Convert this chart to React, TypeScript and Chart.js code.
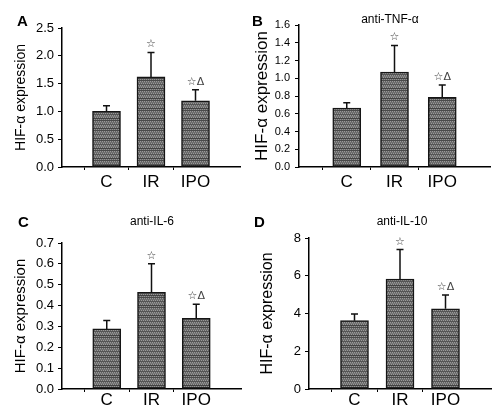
import React, { useEffect, useRef } from 'react';
import { Chart, registerables } from 'chart.js';

Chart.register(...registerables);

// ---------- data ----------
const categories = ['', 'C', 'IR', 'IPO', ''];
const valuesA = [null, 1.0, 1.62, 1.19, null];
const errorsA = [null, 0.1, 0.44, 0.2, null];
const valuesB = [null, 0.665, 1.07, 0.785, null];
const errorsB = [null, 0.06, 0.3, 0.14, null];
const valuesC = [null, 0.288, 0.464, 0.339, null];
const errorsC = [null, 0.041, 0.137, 0.067, null];
const valuesD = [null, 3.62, 5.83, 4.25, null];
const errorsD = [null, 0.35, 1.56, 0.73, null];
const marks = ['', '', '☆', '☆Δ', ''];
const yMax = [2.5, 1.6, 0.7, 8];
const yStep = [0.5, 0.2, 0.1, 2];
const yDecimals = [1, 1, 1, 0];
const panelLetters = ['A', 'B', 'C', 'D'];
const panelTitles = ['', 'anti-TNF-α', 'anti-IL-6', 'anti-IL-10'];
const yTitle = 'HIF-α expression';

const FONT = '"Liberation Sans", Arial, sans-serif';

// ---------- layout ----------
const panels = [
  { values: valuesA, errors: errorsA, left: 0, top: 0, w: 250, h: 207, yW: 62, padTop: 28, padRight: 10, xH: 40, tSize: 14, tPad: 13, xPad: 4, tickSize: 13, tickPad: 4 },
  { values: valuesB, errors: errorsB, left: 250, top: 0, w: 250, h: 207, yW: 49, padTop: 25, padRight: 10, xH: 40, tSize: 17, tPad: 2, xPad: 4, tickSize: 11, tickPad: 5 },
  { values: valuesC, errors: errorsC, left: 0, top: 207, w: 250, h: 208, yW: 62, padTop: 36, padRight: 9, xH: 26, tSize: 15, tPad: 12, xPad: 0, tickSize: 13, tickPad: 4 },
  { values: valuesD, errors: errorsD, left: 250, top: 207, w: 250, h: 208, yW: 59, padTop: 31, padRight: 9, xH: 26, tSize: 16, tPad: 8, xPad: 0, tickSize: 13, tickPad: 4 },
];
const letterPos = [
  { x: 17, y: 13 }, { x: 252, y: 13 }, { x: 18, y: 214 }, { x: 254, y: 214 },
];
const titlePos = [
  { x: 0, y: 0 }, { x: 390, y: 13 }, { x: 152, y: 215 }, { x: 402, y: 215 },
];

function makePattern(): CanvasPattern | string {
  const c = document.createElement('canvas');
  c.width = 2;
  c.height = 10;
  const g = c.getContext('2d');
  if (!g) return '#707070';
  const rows = [
    ['#4a4a4a', '#4a4a4a'],
    ['#9a9a9a', '#616161'],
    ['#707070', '#707070'],
    ['#616161', '#9a9a9a'],
    ['#555555', '#555555'],
    ['#9a9a9a', '#616161'],
    ['#7a7a7a', '#7a7a7a'],
    ['#616161', '#9a9a9a'],
    ['#424242', '#424242'],
    ['#949494', '#656565'],
  ];
  rows.forEach((r, y) => r.forEach((col, x) => { g.fillStyle = col; g.fillRect(x, y, 1, 1); }));
  return g.createPattern(c, 'repeat') || '#707070';
}

const errorPlugin = {
  id: 'errbars',
  afterDatasetsDraw(chart: any, _args: any, opts: any) {
    const { ctx } = chart;
    const meta = chart.getDatasetMeta(0);
    const ds = chart.data.datasets[0];
    const yScale = chart.scales.y;
    const errs = opts.errors || [];
    const mk = opts.marks || [];
    ctx.save();
    meta.data.forEach((bar: any, i: number) => {
      const v = ds.data[i];
      const e = errs[i];
      if (v == null || e == null) return;
      const x = bar.x;
      const yTop = yScale.getPixelForValue(v + e);
      ctx.strokeStyle = '#111';
      ctx.lineWidth = 1.5;
      ctx.beginPath();
      ctx.moveTo(x, bar.y);
      ctx.lineTo(x, yTop);
      ctx.moveTo(x - 3.5, yTop);
      ctx.lineTo(x + 3.5, yTop);
      ctx.stroke();
      if (mk[i]) {
        ctx.fillStyle = '#444';
        ctx.font = '11px "DejaVu Sans", sans-serif';
        ctx.textAlign = 'center';
        ctx.textBaseline = 'alphabetic';
        ctx.fillText(mk[i], x, yTop - 5);
      }
    });
    ctx.restore();
  },
};

function Panel({ idx }: { idx: number }) {
  const ref = useRef<HTMLCanvasElement | null>(null);
  const p = panels[idx];
  useEffect(() => {
    if (!ref.current) return;
    const pattern = makePattern();
    const chart = new Chart(ref.current, {
      type: 'bar',
      data: {
        labels: categories,
        datasets: [{
          data: p.values as any,
          backgroundColor: pattern as any,
          borderColor: '#151515',
          borderWidth: 1.5,
          borderSkipped: false,
          barThickness: 28,
        }],
      },
      options: {
        responsive: false,
        animation: false,
        devicePixelRatio: 1,
        layout: { padding: { top: p.padTop, right: p.padRight, left: 0, bottom: 0 } },
        plugins: {
          legend: { display: false },
          tooltip: { enabled: false },
          errbars: { errors: p.errors, marks },
        } as any,
        scales: {
          x: {
            type: 'category',
            offset: false,
            grid: {
              drawOnChartArea: false,
              tickLength: 3,
              lineWidth: 1,
              color: (c: any) => (c.index >= 1 && c.index <= 3 ? '#000' : 'rgba(0,0,0,0)'),
            },
            border: { color: '#000', width: 1.5 },
            ticks: {
              color: '#000',
              font: { family: FONT, size: 17, lineHeight: 1 },
              padding: p.xPad,
              maxRotation: 0,
              autoSkip: false,
            },
            afterFit: (s: any) => { s.height = p.xH; },
          },
          y: {
            min: 0,
            max: yMax[idx],
            ticks: {
              stepSize: yStep[idx],
              autoSkip: false,
              color: '#000',
              font: { family: FONT, size: p.tickSize },
              padding: p.tickPad,
              callback: (v: any) => Number(v).toFixed(yDecimals[idx]),
            },
            grid: { drawOnChartArea: false, tickLength: 4, color: '#000', lineWidth: 1 },
            border: { color: '#000', width: 1.5 },
            title: {
              display: true,
              text: yTitle,
              color: '#000',
              font: { family: FONT, size: p.tSize },
              padding: { top: p.tPad, bottom: 0 },
            },
            afterFit: (s: any) => { s.width = p.yW; },
          },
        },
      } as any,
      plugins: [errorPlugin as any],
    });
    return () => chart.destroy();
  }, [idx]);
  return (
    <canvas
      ref={ref}
      width={p.w}
      height={p.h}
      style={{ position: 'absolute', left: p.left, top: p.top, width: p.w, height: p.h }}
    />
  );
}

export default function App() {
  return (
    <div style={{ position: 'absolute', left: 0, top: 0, width: 500, height: 415, background: '#fff', overflow: 'hidden' }}>
      {panels.map((_, i) => <Panel key={i} idx={i} />)}
      {panelLetters.map((l, i) => (
        <div key={'l' + i} style={{ position: 'absolute', left: letterPos[i].x, top: letterPos[i].y, fontFamily: FONT, fontWeight: 'bold', fontSize: 15, lineHeight: '15px', color: '#000' }}>{l}</div>
      ))}
      {panelTitles.map((t, i) => t ? (
        <div key={'t' + i} style={{ position: 'absolute', left: titlePos[i].x, top: titlePos[i].y, transform: 'translateX(-50%)', fontFamily: FONT, fontSize: 12, lineHeight: '12px', color: '#000', whiteSpace: 'nowrap' }}>{t}</div>
      ) : null)}
    </div>
  );
}
